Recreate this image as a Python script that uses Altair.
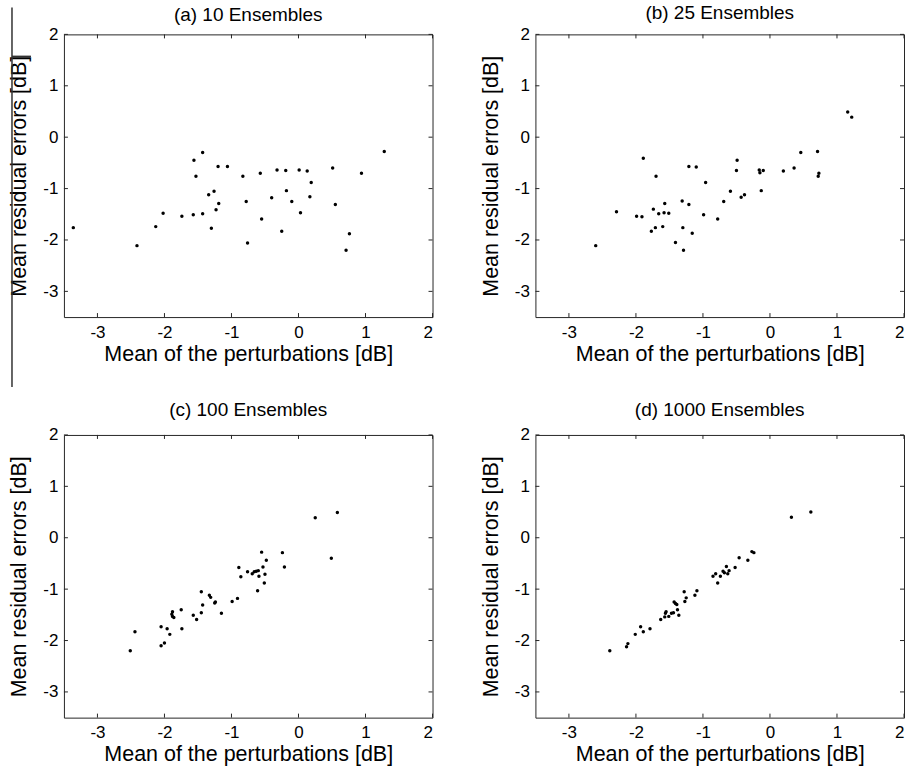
import altair as alt
import pandas as pd

# ---------------- data ----------------
x_ticks = [-3, -2, -1, 0, 1, 2]
y_ticks = [-3, -2, -1, 0, 1, 2]

titles = ["(a) 10 Ensembles", "(b) 25 Ensembles", "(c) 100 Ensembles", "(d) 1000 Ensembles"]

a_x = [-3.36, -2.41, -2.13, -2.02, -1.74, -1.57, -1.56, -1.53, -1.43, -1.43,
       -1.34, -1.30, -1.26, -1.23, -1.20, -1.19, -1.06, -0.83, -0.78, -0.76,
       -0.57, -0.55, -0.40, -0.32, -0.25, -0.19, -0.18, -0.10, 0.01, 0.03,
       0.13, 0.17, 0.19, 0.51, 0.55, 0.71, 0.76, 0.94, 1.28]
a_y = [-1.76, -2.11, -1.74, -1.48, -1.54, -1.51, -0.45, -0.76, -0.30, -1.49,
       -1.12, -1.77, -1.05, -1.41, -0.57, -1.29, -0.57, -0.76, -1.25, -2.06,
       -0.70, -1.59, -1.18, -0.64, -1.83, -0.65, -1.04, -1.25, -0.64, -1.47,
       -0.66, -1.16, -0.88, -0.60, -1.31, -2.20, -1.88, -0.70, -0.28]

b_x = [-2.60, -2.29, -1.99, -1.91, -1.89, -1.77, -1.74, -1.71, -1.70, -1.66,
       -1.60, -1.58, -1.57, -1.51, -1.41, -1.31, -1.30, -1.29, -1.21, -1.21,
       -1.16, -1.10, -0.99, -0.96, -0.78, -0.69, -0.59, -0.50, -0.49, -0.43,
       -0.38, -0.16, -0.15, -0.13, -0.10, 0.20, 0.36, 0.46, 0.71, 0.72,
       0.73, 1.16, 1.22]
b_y = [-2.11, -1.45, -1.54, -1.55, -0.41, -1.83, -1.40, -1.76, -0.76, -1.49,
       -1.74, -1.47, -1.29, -1.48, -2.05, -1.24, -1.76, -2.20, -1.31, -0.57,
       -1.87, -0.58, -1.51, -0.88, -1.59, -1.25, -1.05, -0.65, -0.45, -1.17,
       -1.12, -0.64, -0.69, -1.04, -0.65, -0.66, -0.60, -0.30, -0.28, -0.76,
       -0.70, 0.49, 0.39]

c_x = [-2.51, -2.44, -2.05, -2.05, -2.00, -1.96, -1.92, -1.89, -1.88, -1.88,
       -1.86, -1.75, -1.74, -1.57, -1.52, -1.45, -1.45, -1.43, -1.33, -1.31,
       -1.25, -1.24, -1.15, -0.99, -0.91, -0.89, -0.86, -0.76, -0.69, -0.66,
       -0.63, -0.61, -0.60, -0.59, -0.55, -0.53, -0.51, -0.50, -0.48, -0.24,
       -0.21, 0.25, 0.49, 0.58]
c_y = [-2.20, -1.83, -1.73, -2.10, -2.05, -1.77, -1.88, -1.49, -1.44, -1.53,
       -1.55, -1.40, -1.77, -1.51, -1.59, -1.05, -1.46, -1.31, -1.12, -1.16,
       -1.27, -1.25, -1.47, -1.24, -1.18, -0.58, -0.76, -0.66, -0.70, -0.66,
       -0.65, -1.03, -0.64, -0.75, -0.28, -0.57, -0.88, -0.71, -0.44, -0.29,
       -0.57, 0.39, -0.40, 0.49]

d_x = [-2.39, -2.14, -2.12, -2.01, -1.93, -1.89, -1.79, -1.63, -1.57, -1.56,
       -1.55, -1.51, -1.47, -1.44, -1.43, -1.41, -1.39, -1.38, -1.36, -1.28,
       -1.27, -1.25, -1.12, -1.09, -0.85, -0.81, -0.78, -0.74, -0.70, -0.68,
       -0.65, -0.63, -0.61, -0.52, -0.46, -0.33, -0.27, -0.24, 0.32, 0.61]
d_y = [-2.20, -2.12, -2.06, -1.88, -1.73, -1.83, -1.77, -1.59, -1.54, -1.47,
       -1.44, -1.53, -1.47, -1.46, -1.25, -1.28, -1.30, -1.40, -1.51, -1.05,
       -1.24, -1.17, -1.12, -1.03, -0.75, -0.70, -0.88, -0.75, -0.65, -0.68,
       -0.56, -0.70, -0.64, -0.58, -0.39, -0.44, -0.27, -0.29, 0.40, 0.50]

# ---------------- styling ----------------
W, H = 369, 283
TL = 4
FRAME = "#262626"
FONT = "Liberation Sans"
X_TITLE = "Mean of the perturbations [dB]"
Y_TITLE = "Mean residual errors [dB]"
LABEL_EXPR = "'' + datum.value"


def panel(title, xs, ys, artifact=False, title_offset=2):
    df = pd.DataFrame({"x": xs, "y": ys})
    xscale = alt.Scale(domain=[-3.5, 2], nice=False, zero=False)
    yscale = alt.Scale(domain=[-3.5, 2], nice=False, zero=False)
    xaxis = alt.Axis(values=x_ticks, title=X_TITLE, labelPadding=7, titlePadding=3,
                     labelExpr=LABEL_EXPR)
    yaxis = alt.Axis(values=y_ticks, title=Y_TITLE, labelPadding=6, titlePadding=12,
                     labelExpr=LABEL_EXPR)
    pts = alt.Chart(df).mark_circle(size=12, color="black", opacity=1).encode(
        x=alt.X("x:Q", scale=xscale, axis=xaxis),
        y=alt.Y("y:Q", scale=yscale, axis=yaxis),
    )
    xt = pd.DataFrame({"x": x_ticks})
    yt = pd.DataFrame({"y": y_ticks})
    bottom = alt.Chart(xt).mark_rule(color=FRAME).encode(
        x=alt.X("x:Q", scale=xscale, axis=xaxis), y=alt.value(H), y2=alt.value(H - TL))
    top = alt.Chart(xt).mark_rule(color=FRAME).encode(
        x=alt.X("x:Q", scale=xscale, axis=xaxis), y=alt.value(0), y2=alt.value(TL))
    left = alt.Chart(yt).mark_rule(color=FRAME).encode(
        y=alt.Y("y:Q", scale=yscale, axis=yaxis), x=alt.value(0), x2=alt.value(TL))
    right = alt.Chart(yt).mark_rule(color=FRAME).encode(
        y=alt.Y("y:Q", scale=yscale, axis=yaxis), x=alt.value(W), x2=alt.value(W - TL))
    layers = [pts, bottom, top, left, right]
    if artifact:
        one = pd.DataFrame({"k": [0]})
        vline = alt.Chart(one).mark_rule(color="#333333", strokeWidth=1.5).encode(
            x=alt.value(-52), y=alt.value(-27), y2=alt.value(353))
        hline = alt.Chart(one).mark_rule(color="#333333", strokeWidth=1.5).encode(
            x=alt.value(-52), x2=alt.value(-33), y=alt.value(22))
        layers += [vline, hline]
    return alt.layer(*layers).properties(
        width=W, height=H,
        title=alt.TitleParams(title, fontSize=19, font=FONT, fontWeight="normal",
                              color="black", offset=title_offset, anchor="middle"),
    )


pa = panel(titles[0], a_x, a_y, artifact=True, title_offset=-18)
pb = panel(titles[1], b_x, b_y, title_offset=2)
pc = panel(titles[2], c_x, c_y, title_offset=6)
pd_ = panel(titles[3], d_x, d_y, title_offset=6)

chart = alt.vconcat(
    alt.hconcat(pa, pb, spacing=46),
    alt.hconcat(pc, pd_, spacing=46),
    spacing=11,
).properties(
    padding={"left": 8, "top": 3, "right": 0, "bottom": 0},
    background="white",
).configure_view(
    stroke=FRAME, strokeWidth=1
).configure_axis(
    labelFont=FONT, labelFontSize=17, labelColor="black",
    titleFont=FONT, titleFontSize=21.5, titleFontWeight="normal", titleColor="black",
    ticks=False, domain=False, grid=False,
)

chart.save("out.html", embed_options={"renderer": "svg", "actions": False})
